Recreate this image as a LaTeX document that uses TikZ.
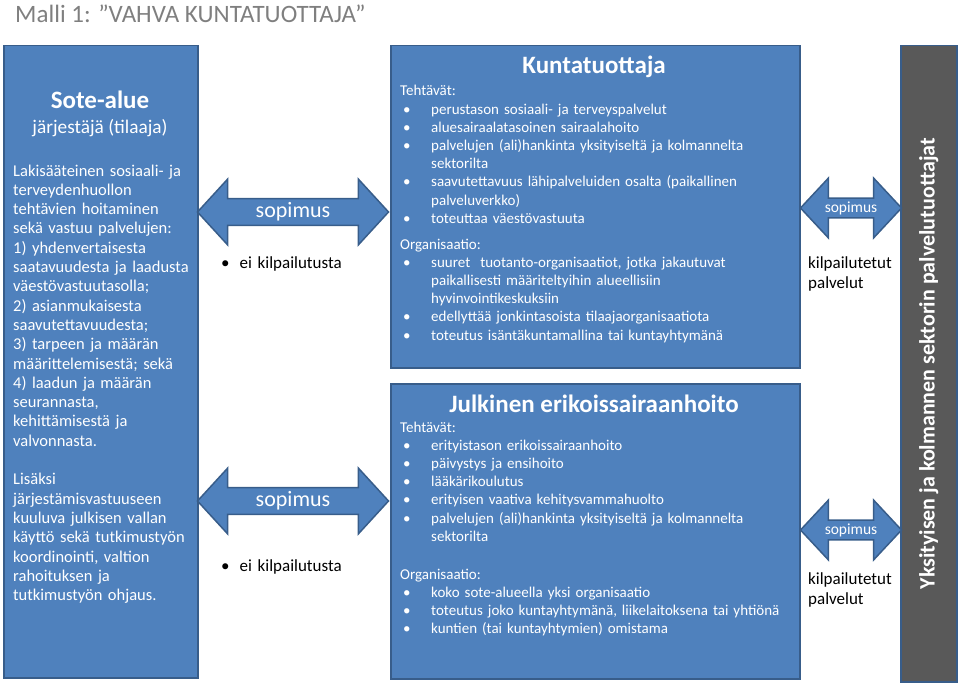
\documentclass[tikz,border=0pt]{standalone}
\usepackage{fontspec}
\setmainfont{Carlito}
\usepackage{xcolor}
\usetikzlibrary{shapes.arrows,positioning}
\definecolor{mBlue}{RGB}{79,129,189}
\definecolor{mBlueDark}{RGB}{56,93,138}
\definecolor{mGray}{RGB}{89,89,89}
\definecolor{mTitle}{RGB}{127,127,127}

% bullet line with hanging indent
\newcommand{\bul}[1]{\par\hangindent=31pt\hangafter=1\noindent\makebox[31pt][l]{\hspace{3pt}\textbullet}#1\par}

\tikzset{
  bluebox/.style={draw=mBlueDark, fill=mBlue, line width=1.5pt, anchor=north west, inner sep=0pt},
  boxtext/.style={text=white, anchor=base west, inner sep=0pt, text width=395pt,
    font=\fontsize{15}{18.2}\selectfont},
  boxtitle/.style={text=white, font=\bfseries\fontsize{25}{30}\selectfont},
  sopbig/.style={double arrow, draw=mBlueDark, fill=mBlue, line width=1.5pt, text=white,
    font=\fontsize{22}{26}\selectfont, minimum height=191pt, minimum width=66pt,
    double arrow head extend=15pt, double arrow tip angle=95, inner sep=0pt},
  sopsmall/.style={double arrow, draw=mBlueDark, fill=mBlue, line width=1.5pt, text=white,
    font=\fontsize{15.5}{18}\selectfont, minimum height=101pt, minimum width=60pt,
    double arrow head extend=15pt, double arrow tip angle=94, inner sep=0pt},
  sidetext/.style={anchor=base west, inner sep=0pt, text width=150pt, align=left,
    font=\fontsize{17}{20}\selectfont}
}

\begin{document}
\begin{tikzpicture}[x=1pt,y=-1pt]
\useasboundingbox (0,0) rectangle (960,687);

\node[anchor=base west, inner sep=0pt, text=mTitle, font=\fontsize{25}{30}\selectfont] (title) at (15,23) {Malli 1: ”VAHVA KUNTATUOTTAJA”};

% boxes
\node[bluebox, minimum width=194pt, minimum height=632pt] (sote) at (3,45) {};
\node[bluebox, minimum width=409pt, minimum height=322pt] (kunta) at (390,45) {};
\node[bluebox, minimum width=409pt, minimum height=295pt] (erko) at (390,383) {};
\node[bluebox, fill=mGray, minimum width=56pt, minimum height=636pt] (yks) at (900,45) {};

% sote-alue
\node[boxtitle] (sotetitle) at (100,100) {Sote-alue};
\node[text=white, font=\fontsize{19.3}{23}\selectfont] (sotesub) at (100,128) {järjestäjä (tilaaja)};
\node[boxtext, text width=200pt, align=left, font=\fontsize{16.5}{19.3}\selectfont] (sotebody) at (13,176) {Lakisääteinen sosiaali- ja\\
terveydenhuollon\\
tehtävien hoitaminen\\
sekä vastuu palvelujen:\\
1) yhdenvertaisesta\\
saatavuudesta ja laadusta\\
väestövastuutasolla;\\
2) asianmukaisesta\\
saavutettavuudesta;\\
3) tarpeen ja määrän\\
määrittelemisestä; sekä\\
4) laadun ja määrän\\
seurannasta,\\
kehittämisestä ja\\
valvonnasta.\\[19.3pt]
Lisäksi\\
järjestämisvastuuseen\\
kuuluva julkisen vallan\\
käyttö sekä tutkimustyön\\
koordinointi, valtion\\
rahoituksen ja\\
tutkimustyön ohjaus.};

% kuntatuottaja
\node[boxtitle] (kuntatitle) at (594,67) {Kuntatuottaja};
\node[boxtext] (kuntateht) at (400,96) {Tehtävät:
\bul{perustason sosiaali- ja terveyspalvelut}
\bul{aluesairaalatasoinen sairaalahoito}
\bul{palvelujen (ali)hankinta yksityiseltä ja kolmannelta\newline sektorilta}
\bul{saavutettavuus lähipalveluiden osalta (paikallinen\newline palveluverkko)}
\bul{toteuttaa väestövastuuta}};
\node[boxtext] (kuntaorg) at (400,249) {Organisaatio:
\bul{suuret\ \ tuotanto-organisaatiot, jotka jakautuvat\newline paikallisesti määriteltyihin alueellisiin\newline hyvinvointikeskuksiin}
\bul{edellyttää jonkintasoista tilaajaorganisaatiota}
\bul{toteutus isäntäkuntamallina tai kuntayhtymänä}};

% erikoissairaanhoito
\node[boxtitle] (erkotitle) at (594,404) {Julkinen erikoissairaanhoito};
\node[boxtext] (erkoteht) at (400,432) {Tehtävät:
\bul{erityistason erikoissairaanhoito}
\bul{päivystys ja ensihoito}
\bul{lääkärikoulutus}
\bul{erityisen vaativa kehitysvammahuolto}
\bul{palvelujen (ali)hankinta yksityiseltä ja kolmannelta\newline sektorilta}};
\node[boxtext] (erkoorg) at (400,579) {Organisaatio:
\bul{koko sote-alueella yksi organisaatio}
\bul{toteutus joko kuntayhtymänä, liikelaitoksena tai yhtiönä}
\bul{kuntien (tai kuntayhtymien) omistama}};

% yksityiset
\node[rotate=90, text=white, font=\bfseries\fontsize{22}{26}\selectfont] (yksteksti) at (yks.center) {Yksityisen ja kolmannen sektorin palvelutuottajat};

% sopimukset
\node[sopbig] (sop1) at (293,212) {sopimus};
\node[sopbig] (sop2) at (293,501) {sopimus};
\node[sopsmall] (sop3) at (851,208) {sopimus};
\node[sopsmall] (sop4) at (851,530) {sopimus};

\node[sidetext] (ei1) at (221,268) {\textbullet\hspace{10pt}ei kilpailutusta};
\node[sidetext] (ei2) at (221,571) {\textbullet\hspace{10pt}ei kilpailutusta};
\node[sidetext, text width=90pt] (kilp1) at (808,268) {kilpailutetut\\palvelut};
\node[sidetext, text width=90pt] (kilp2) at (808,584) {kilpailutetut\\palvelut};
\end{tikzpicture}
\end{document}
